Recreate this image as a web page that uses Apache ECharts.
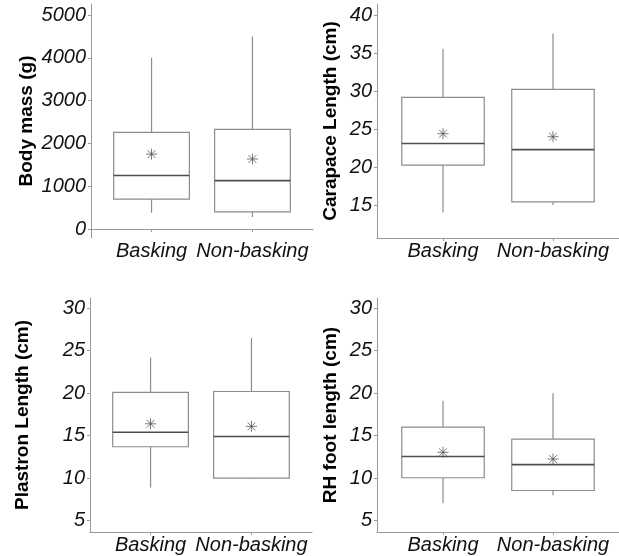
<!DOCTYPE html>
<html>
<head>
<meta charset="utf-8">
<script src="https://cdn.jsdelivr.net/npm/echarts@6/dist/echarts.min.js"></script>
<style>
  html, body { margin: 0; padding: 0; background: #fff; }
  #chart { width: 619px; height: 556px; }
</style>
</head>
<body>
<div id="chart"></div>
<script>
// ---- data (min, Q1, median, Q3, max) ----
const categories = ['Basking', 'Non-basking'];

const massBasking = [380, 700, 1250, 2260, 4000];
const massNonBasking = [280, 400, 1130, 2330, 4500];
const massMeans = [1750, 1635];
const massTicks = [0, 1000, 2000, 3000, 4000, 5000];

const carapaceBasking = [14.0, 20.25, 23.1, 29.2, 35.6];
const carapaceNonBasking = [15.0, 15.4, 22.3, 30.25, 37.6];
const carapaceMeans = [24.4, 24.0];
const carapaceTicks = [15, 20, 25, 30, 35, 40];

const plastronBasking = [8.9, 13.7, 15.4, 20.1, 24.2];
const plastronNonBasking = [9.9, 10.0, 14.9, 20.2, 26.5];
const plastronMeans = [16.4, 16.1];
const plastronTicks = [5, 10, 15, 20, 25, 30];

const footBasking = [7.05, 10.05, 12.55, 16.0, 19.1];
const footNonBasking = [8.0, 8.55, 11.6, 14.6, 20.0];
const footMeans = [13.05, 12.25];
const footTicks = [5, 10, 15, 20, 25, 30];

const titles = ['Body mass (g)', 'Carapace Length (cm)', 'Plastron Length (cm)', 'RH foot length (cm)'];

// ---- layout ----
const FONT = '"Liberation Sans", Arial, sans-serif';
const AXIS_COLOR = '#999999';
const BOX_COLOR = '#8c8c8c';
const MED_COLOR = '#4d4d4d';

const panelDefs = [
  { grid: { left: 91, top: 4, width: 222, height: 234 }, min: -210, max: 5257, ticks: massTicks,
    boxes: [massBasking, massNonBasking], means: massMeans, nameGap: 55 },
  { grid: { left: 377, top: 4, width: 242, height: 234 }, min: 10.65, max: 41.5, ticks: carapaceTicks,
    boxes: [carapaceBasking, carapaceNonBasking], means: carapaceMeans, nameGap: 37 },
  { grid: { left: 90, top: 298, width: 222, height: 234 }, min: 3.67, max: 31.2, ticks: plastronTicks,
    boxes: [plastronBasking, plastronNonBasking], means: plastronMeans, nameGap: 58 },
  { grid: { left: 377, top: 298, width: 242, height: 234 }, min: 3.67, max: 31.2, ticks: footTicks,
    boxes: [footBasking, footNonBasking], means: footMeans, nameGap: 37 }
];

function renderBox(params, api) {
  const x = api.value(0);
  const lo = api.coord([x, api.value(1)]);
  const q1 = api.coord([x, api.value(2)]);
  const md = api.coord([x, api.value(3)]);
  const q3 = api.coord([x, api.value(4)]);
  const hi = api.coord([x, api.value(5)]);
  const half = api.size([0.75, 0])[0] / 2;
  const cx = md[0];
  const lineStyle = { stroke: BOX_COLOR, lineWidth: 1.2 };
  return {
    type: 'group',
    children: [
      { type: 'line', shape: { x1: cx, y1: hi[1], x2: cx, y2: q3[1] }, style: lineStyle },
      { type: 'line', shape: { x1: cx, y1: q1[1], x2: cx, y2: lo[1] }, style: lineStyle },
      { type: 'rect', shape: { x: cx - half, y: q3[1], width: 2 * half, height: q1[1] - q3[1] },
        style: { fill: '#ffffff', stroke: BOX_COLOR, lineWidth: 1.2 } },
      { type: 'line', shape: { x1: cx - half, y1: md[1], x2: cx + half, y2: md[1] },
        style: { stroke: MED_COLOR, lineWidth: 1.6 } }
    ]
  };
}

const grids = [], xAxes = [], yAxes = [], series = [];
panelDefs.forEach((p, i) => {
  grids.push(Object.assign({ containLabel: false }, p.grid));
  xAxes.push({
    type: 'value', gridIndex: i, min: 0.4, max: 2.6,
    axisLine: { show: true, lineStyle: { color: AXIS_COLOR, width: 1 } },
    axisTick: { show: true, customValues: [1, 2], length: 3, lineStyle: { color: AXIS_COLOR } },
    axisLabel: {
      customValues: [1, 2], margin: 3,
      formatter: v => categories[Math.round(v) - 1],
      fontFamily: FONT, fontStyle: 'italic', fontSize: 20, color: '#111'
    },
    splitLine: { show: false }
  });
  yAxes.push({
    type: 'value', gridIndex: i, min: p.min, max: p.max,
    name: titles[i], nameLocation: 'middle', nameRotate: 90, nameGap: p.nameGap,
    nameTextStyle: { fontFamily: FONT, fontWeight: 'bold', fontSize: 19, color: '#000' },
    axisLine: { show: true, lineStyle: { color: AXIS_COLOR, width: 1 } },
    axisTick: { show: true, customValues: p.ticks, length: 3, lineStyle: { color: AXIS_COLOR } },
    axisLabel: {
      customValues: p.ticks, margin: 5,
      formatter: v => String(v),
      fontFamily: FONT, fontStyle: 'italic', fontSize: 20, color: '#111'
    },
    splitLine: { show: false }
  });
  series.push({
    type: 'custom', xAxisIndex: i, yAxisIndex: i,
    renderItem: renderBox,
    encode: { x: 0, y: [1, 2, 3, 4, 5] },
    data: p.boxes.map((b, k) => [k + 1].concat(b)),
    silent: true, z: 2
  });
  series.push({
    type: 'scatter', xAxisIndex: i, yAxisIndex: i,
    symbol: 'path://M5,0L5,10M0,5L10,5M1.46,1.46L8.54,8.54M8.54,1.46L1.46,8.54',
    symbolSize: 11,
    itemStyle: { color: 'none', borderColor: '#555555', borderWidth: 1 },
    data: p.means.map((m, k) => [k + 1, m]),
    silent: true, z: 3
  });
});

const chart = echarts.init(document.getElementById('chart'), null, { renderer: 'canvas' });
chart.setOption({
  animation: false,
  backgroundColor: '#ffffff',
  grid: grids,
  xAxis: xAxes,
  yAxis: yAxes,
  series: series
});
</script>
</body>
</html>
